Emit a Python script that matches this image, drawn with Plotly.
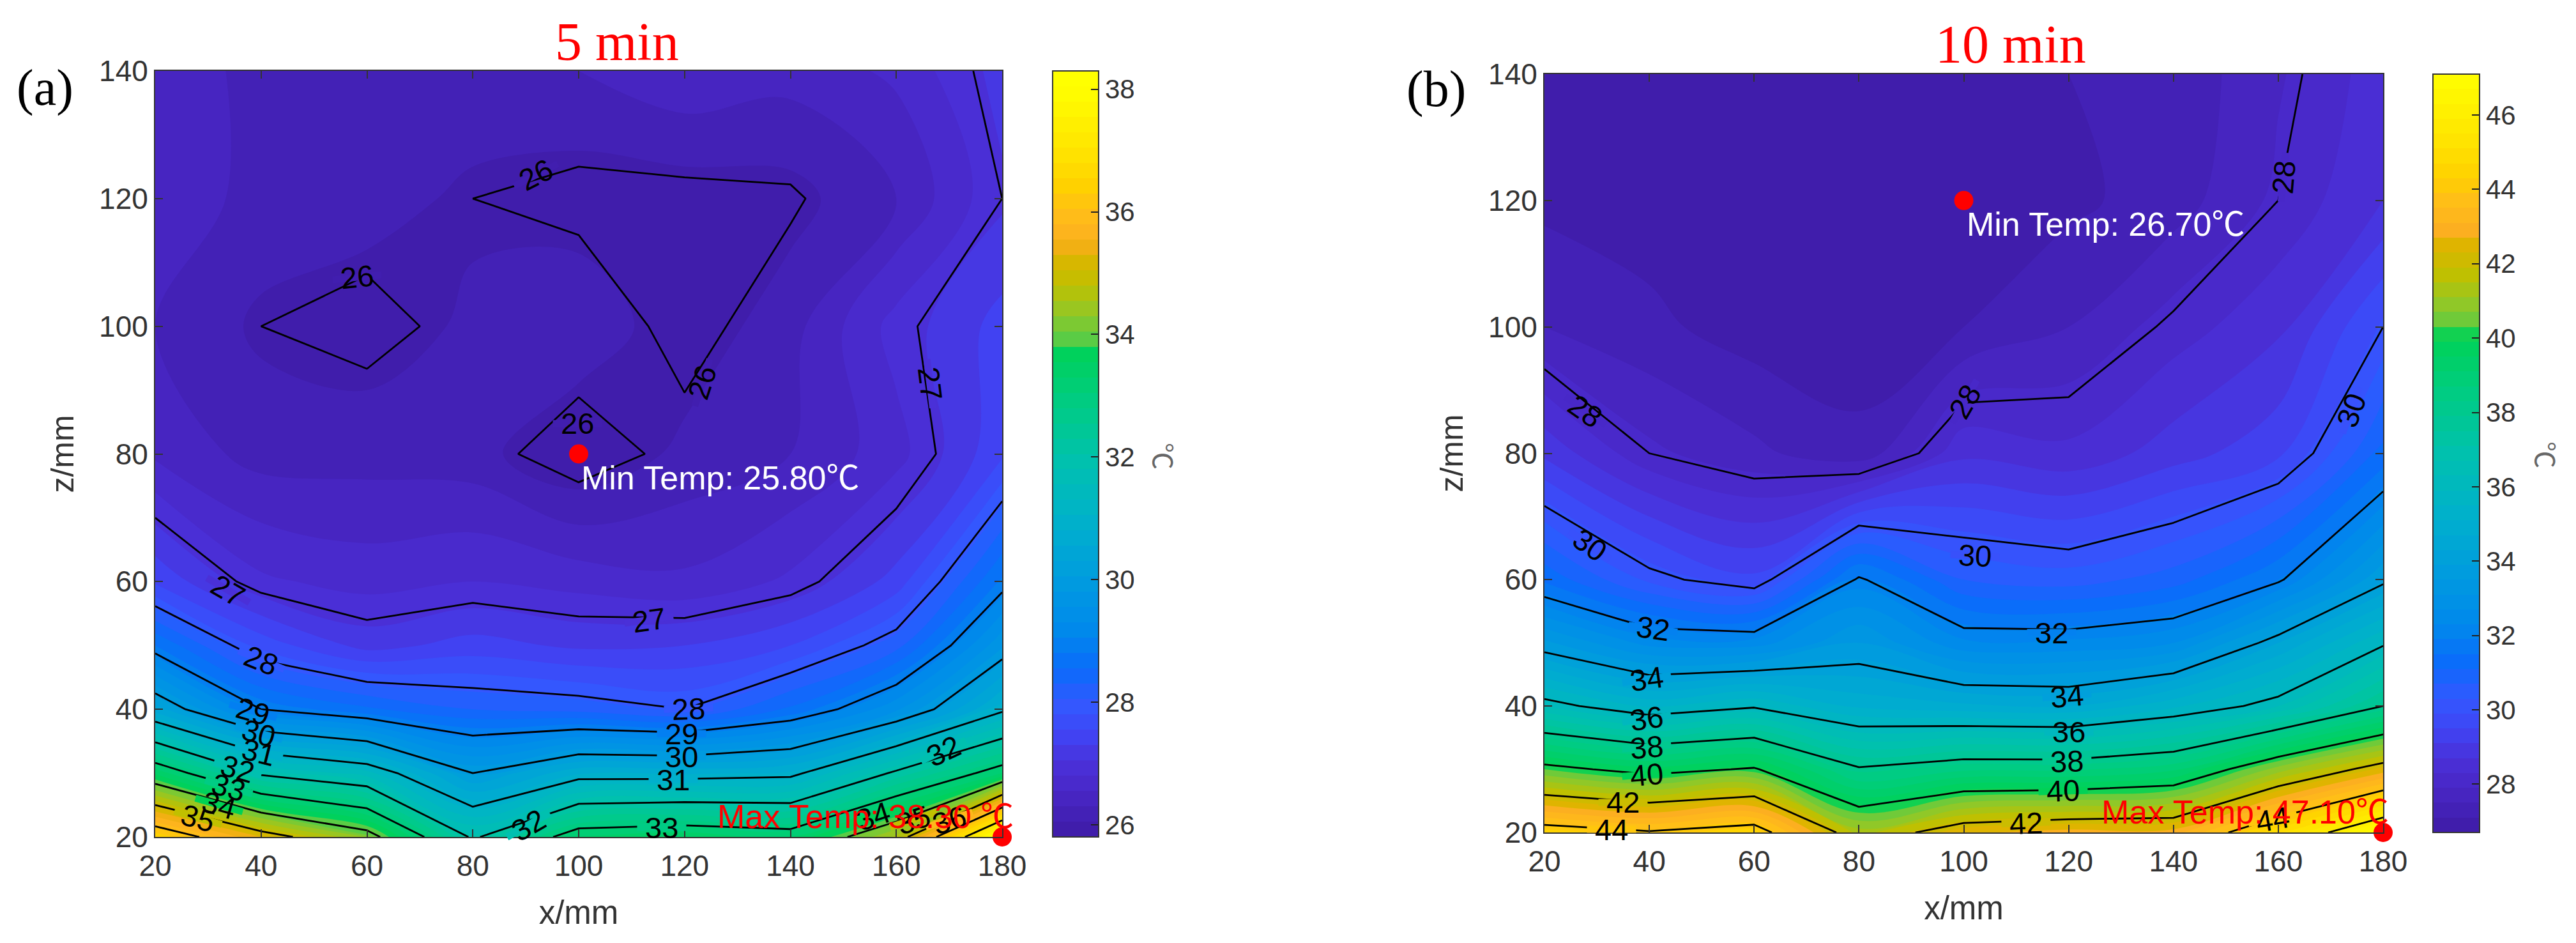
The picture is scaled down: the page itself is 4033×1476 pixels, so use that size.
import plotly.graph_objects as go

W, H = 4033, 1476

x_mm = [20, 40, 60, 80, 100, 120, 140, 160, 180]
z_mm = [20, 30, 40, 50, 60, 80, 100, 120, 140]

temp_5min = [
    [36.5, 35.3, 34.3, 31.9, 33.35, 33.5, 33.3, 34.6, 38.3],
    [33.5, 31.9, 31.4, 30.0, 30.75, 30.75, 30.85, 32.1, 33.3],
    [30.4, 29.0, 28.6, 28.3, 28.2, 28.0, 28.6, 29.5, 30.9],
    [28.8, 27.7, 27.2, 27.4, 27.25, 27.3, 27.55, 28.2, 29.75],
    [27.5, 26.85, 26.7, 26.8, 26.7, 26.6, 26.85, 27.4, 28.85],
    [26.5, 26.2, 26.2, 26.15, 25.8, 26.12, 26.3, 26.7, 27.5],
    [26.3, 26.0, 25.9, 26.1, 26.25, 25.87, 26.2, 26.9, 27.4],
    [26.5, 26.2, 26.15, 26.0, 25.9, 25.9, 25.95, 26.3, 27.0],
    [26.5, 26.2, 26.2, 26.2, 26.3, 26.5, 26.4, 26.6, 27.15],
]
temp_10min = [
    [44.5, 44.1, 44.55, 41.3, 42.6, 42.9, 42.9, 45.0, 47.1],
    [40.3, 39.65, 40.1, 38.1, 38.6, 38.6, 39.0, 40.9, 42.45],
    [36.3, 35.4, 35.9, 35.0, 34.8, 34.7, 35.4, 36.3, 38.0],
    [33.6, 32.55, 32.5, 33.5, 32.4, 32.4, 32.7, 34.3, 35.9],
    [31.4, 30.2, 29.6, 32.1, 30.7, 30.5, 30.9, 31.9, 33.85],
    [29.0, 28.0, 27.6, 27.2, 28.6, 28.4, 28.9, 29.4, 31.2],
    [27.5, 27.2, 26.9, 26.9, 27.1, 27.5, 28.1, 28.6, 30.0],
    [27.0, 26.9, 26.8, 26.8, 26.7, 27.0, 27.3, 28.0, 28.7],
    [27.1, 26.9, 26.8, 26.8, 26.9, 27.1, 27.2, 27.85, 28.5],
]

range_5min = [25.8, 38.3]
range_10min = [26.7, 47.1]
ticks_5min = [26, 28, 30, 32, 34, 36, 38]
ticks_10min = [28, 30, 32, 34, 36, 38, 40, 42, 44, 46]
xticks = [20, 40, 60, 80, 100, 120, 140, 160, 180]
zticks = [20, 40, 60, 80, 100, 120, 140]

labels_5min = [
    (91.9, 123.7, 26, -27), (58.1, 107.7, 26, -6), (123.3, 91.2, 26, -72), (99.7, 84.8, 26, 0),
    (166.4, 91.0, 27, 83), (33.8, 58.6, 27, 30), (113.3, 54.0, 27, -8),
    (40.0, 47.7, 28, 22), (120.8, 40.1, 28, -2),
    (38.5, 39.7, 29, 16), (119.4, 36.2, 29, 0),
    (39.6, 36.3, 30, 16), (119.4, 32.6, 30, 0),
    (39.6, 33.3, 31, 14), (117.8, 29.0, 31, 0),
    (35.6, 30.7, 32, 16), (90.5, 21.9, 32, -30), (168.9, 33.5, 32, -25),
    (33.9, 27.8, 33, 16), (115.7, 21.5, 33, 0),
    (32.1, 25.0, 34, 16), (155.6, 23.3, 34, -18),
    (28.1, 23.0, 35, 16), (163.2, 22.7, 35, -18),
    (170.0, 22.7, 36, -18),
]
labels_10min = [
    (161.0, 123.7, 28, -85), (100.2, 88.2, 28, -60), (27.8, 86.7, 28, 35),
    (173.9, 86.8, 30, -70), (28.6, 65.5, 30, 35), (102.1, 63.8, 30, 3),
    (40.7, 52.3, 32, 8), (116.7, 51.6, 32, 0),
    (39.5, 44.3, 34, -8), (119.7, 41.6, 34, -5),
    (39.5, 38.0, 36, -8), (120.0, 35.9, 36, 0),
    (39.5, 33.5, 38, -5), (119.7, 31.3, 38, -2),
    (39.5, 29.2, 40, -5), (119.0, 26.6, 40, -2),
    (35.0, 24.8, 42, 0), (111.9, 21.5, 42, -2),
    (32.8, 20.5, 44, 0), (158.9, 22.1, 44, -10),
]

min_pt_5 = (100, 80, "Min Temp: 25.80℃")
max_pt_5 = (180, 20, "Max Temp: 38.30 ℃")
min_pt_10 = (100, 120, "Min Temp: 26.70℃")
max_pt_10 = (180, 20, "Max Temp: 47.10℃")

colorstops = [
    [0.000, "#3e1ba6"], [0.056, "#4826c4"], [0.096, "#4a30d8"], [0.136, "#4044f4"],
    [0.176, "#3358ff"], [0.224, "#0a6cfa"], [0.272, "#0088ec"], [0.336, "#009ae0"],
    [0.416, "#00b0cc"], [0.496, "#00c0b0"], [0.576, "#00cc84"], [0.656, "#00d254"],
    [0.660, "#55cc48"], [0.696, "#90c828"], [0.736, "#c0c000"], [0.776, "#e0b400"],
    [0.792, "#fcae20"], [0.832, "#ffbe18"], [0.864, "#ffd000"], [0.912, "#ffe400"],
    [1.000, "#ffff00"],
]

INK = "#333333"
SANS = "Liberation Sans, Arial, sans-serif"
SERIF = "Liberation Serif, Times New Roman, serif"
CJK = "Liberation Sans, Noto Sans CJK SC, sans-serif"

# pixel boxes of the panels: left, right, top, bottom
box_a = (243, 1569, 111, 1310)
box_b = (2418, 3731, 116, 1303)
cbar_a = (1648, 1720)
cbar_b = (3809, 3882)


def level_colour(frac):
    for (f0, c0), (f1, c1) in zip(colorstops, colorstops[1:]):
        if f0 <= frac <= f1:
            t = (frac - f0) / (f1 - f0)
            a = [int(c0[i:i + 2], 16) for i in (1, 3, 5)]
            b = [int(c1[i:i + 2], 16) for i in (1, 3, 5)]
            return "rgb(%d,%d,%d)" % tuple(round(p + (q - p) * t) for p, q in zip(a, b))
    return colorstops[-1][1]


fig = go.Figure()
gaps = []
anns = []


def panel(idx, box, cbar, data, rng, step, ticks, line_levels, labels, pts, title, title_xy, tag, tag_xy, unit_xy):
    xa, ya = ("x", "y") if idx == 1 else (f"x{idx}", f"y{idx}")
    l, r, t, b = box
    fig.add_trace(go.Contour(
        x=x_mm, y=z_mm, z=data, xaxis=xa, yaxis=ya,
        colorscale=colorstops, zmin=rng[0], zmax=rng[1], autocontour=False,
        contours=dict(start=rng[0], end=rng[1], size=step, coloring="fill", showlines=False),
        line=dict(width=0), hoverinfo="skip",
        colorbar=dict(
            x=cbar[0] / W, xanchor="left", xref="paper",
            y=1 - b / H, yanchor="bottom", yref="paper", len=(b - t) / H, lenmode="fraction",
            thickness=cbar[1] - cbar[0], thicknessmode="pixels", xpad=0, ypad=0,
            outlinecolor=INK, outlinewidth=2, tickvals=ticks, ticks="inside", ticklen=13,
            tickwidth=2, tickcolor="#222222", tickfont=dict(family=SANS, size=42, color=INK),
        ),
    ))
    fig.add_trace(go.Contour(
        x=x_mm, y=z_mm, z=data, xaxis=xa, yaxis=ya, showscale=False, autocontour=False,
        colorscale=[[0, "black"], [1, "black"]],
        contours=dict(start=line_levels[0], end=line_levels[1], size=line_levels[2],
                      coloring="none", showlines=True),
        line=dict(color="black", width=2.8, smoothing=0), hoverinfo="skip",
    ))
    fig.add_trace(go.Scatter(
        x=[pts[0][0], pts[1][0]], y=[pts[0][1], pts[1][1]], mode="markers", xaxis=xa, yaxis=ya,
        marker=dict(color="#ff0000", size=30), cliponaxis=False, showlegend=False, hoverinfo="skip",
    ))
    for lx, lz, lev, ang in labels:
        c = level_colour((lev - rng[0]) / (rng[1] - rng[0]))
        # a thin strip in the local colour opens the contour line under the label
        gaps.append(dict(x=lx, y=lz, xref=xa, yref=ya, text="\u00a0", textangle=ang, showarrow=False,
                         font=dict(family=SANS, size=6, color=c), bgcolor=c,
                         width=76, height=10, borderpad=0, xanchor="center", yanchor="middle"))
        anns.append(dict(x=lx, y=lz, xref=xa, yref=ya, text=str(lev), textangle=ang, showarrow=False,
                         font=dict(family=SANS, size=47, color="black"),
                         xanchor="center", yanchor="middle"))
    anns.append(dict(x=pts[0][0] + 0.3, y=pts[0][1] - 3.8, xref=xa, yref=ya, text=pts[0][2], showarrow=False,
                     font=dict(family=CJK, size=52, color="white"), xanchor="left", yanchor="middle"))
    anns.append(dict(x=126, y=23.2, xref=xa, yref=ya, text=pts[1][2], showarrow=False,
                     font=dict(family=CJK, size=52, color="#ff0000"), xanchor="left", yanchor="middle"))
    anns.append(dict(x=title_xy[0] / W, y=1 - title_xy[1] / H, xref="paper", yref="paper", text=title,
                     xanchor="center", yanchor="middle",
                     showarrow=False, font=dict(family=SERIF, size=84, color="#ff0000")))
    anns.append(dict(x=tag_xy[0] / W, y=1 - tag_xy[1] / H, xref="paper", yref="paper", text=tag,
                     xanchor="center", yanchor="middle",
                     showarrow=False, font=dict(family=SERIF, size=80, color="black")))
    anns.append(dict(x=unit_xy[0] / W, y=1 - unit_xy[1] / H, xref="paper", yref="paper", text="℃", textangle=90,
                     xanchor="center", yanchor="middle",
                     showarrow=False, font=dict(family="Noto Sans CJK SC", size=42, color="#666666")))
    axis = dict(showgrid=False, zeroline=False, showline=True, linecolor=INK, linewidth=2, mirror="ticks",
                ticks="inside", ticklen=12, tickwidth=2, tickcolor=INK, automargin=False,
                tickfont=dict(family=SANS, size=46, color=INK))
    fig.update_layout({
        ("xaxis" if idx == 1 else f"xaxis{idx}"): dict(
            axis, domain=[l / W, r / W], range=[20, 180], tickvals=xticks, anchor=ya, ticklabelstandoff=4,
            title=dict(text="x/mm", font=dict(family=SANS, size=51, color=INK), standoff=30)),
        ("yaxis" if idx == 1 else f"yaxis{idx}"): dict(
            axis, domain=[1 - b / H, 1 - t / H], range=[20, 140], tickvals=zticks, anchor=xa,
            title=dict(text="z/mm", font=dict(family=SANS, size=50, color=INK), standoff=24)),
    })


panel(1, box_a, cbar_a, temp_5min, range_5min, 0.25, ticks_5min, (26, 38, 1), labels_5min,
      (min_pt_5, max_pt_5), "5 min", (966, 66), "(a)", (70, 137), (1824, 714))
panel(2, box_b, cbar_b, temp_10min, range_10min, 0.4, ticks_10min, (28, 46, 2), labels_10min,
      (min_pt_10, max_pt_10), "10 min", (3148, 70), "(b)", (2248, 140), (3987, 712))

fig.update_layout(
    width=W, height=H, autosize=False, margin=dict(l=0, r=0, t=0, b=0),
    paper_bgcolor="white", plot_bgcolor="white", showlegend=False, annotations=gaps + anns,
)
fig.write_html("out.html", config=dict(displayModeBar=False),
               post_script="document.body.style.margin='0';")
